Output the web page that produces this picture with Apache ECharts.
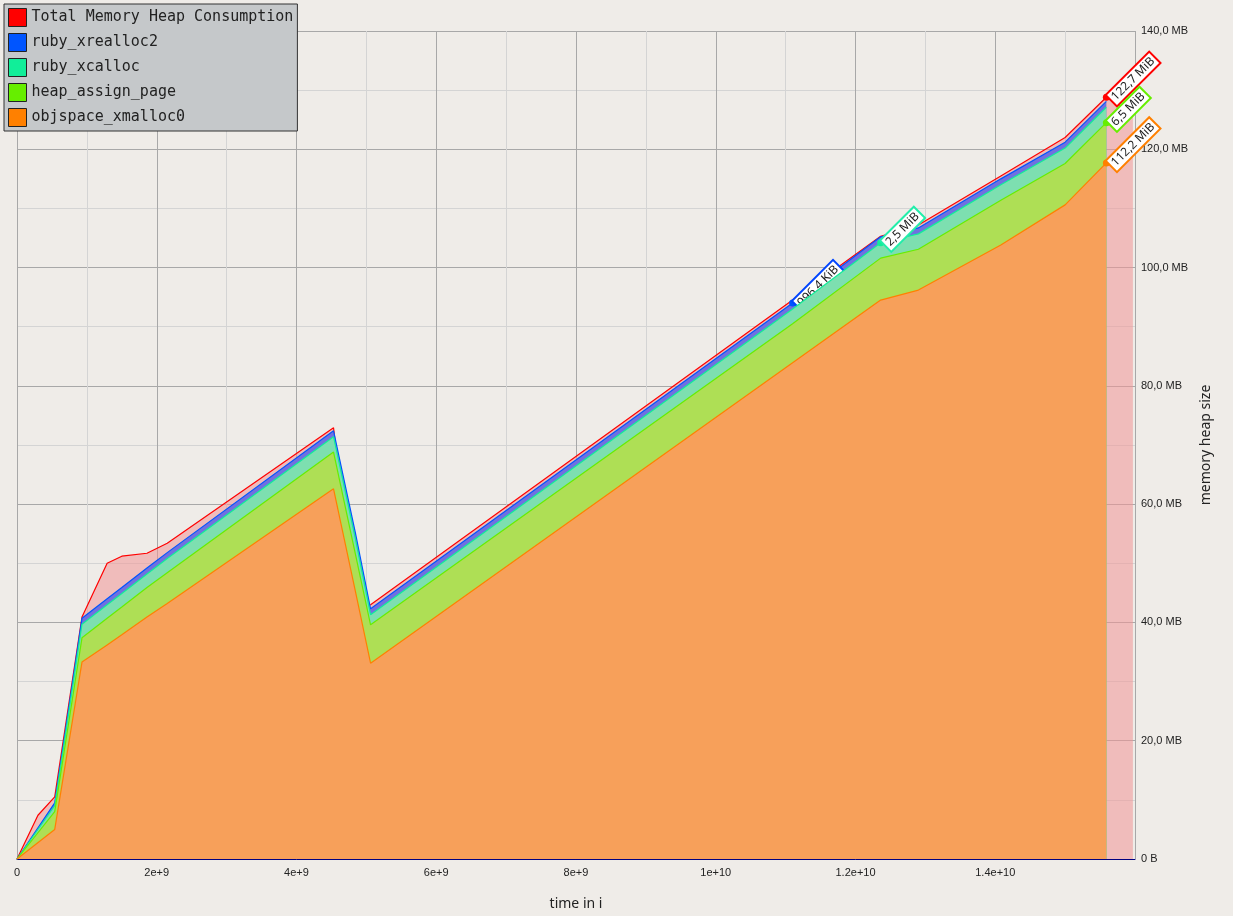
<!DOCTYPE html>
<html><head><meta charset="utf-8">
<script src="https://cdn.jsdelivr.net/npm/echarts@6/dist/echarts.min.js"></script>
<style>html,body{margin:0;background:#efece8}#c{width:1233px;height:916px}</style>
</head><body><div id="c"></div>
<script>
// snapshot times (1e9 units) and heap per allocator (MB)
var times = [0, 0.54, 0.93, 1.29, 1.5, 1.86, 2.15, 4.53, 4.84, 5.06, 11.1, 12.36, 12.9, 14.08, 15.0, 15.59];
var objspace = [0, 5, 33.3, 36.2, 37.9, 40.9, 43.2, 62.6, 45.4, 33.1, 83.9, 94.5, 96.2, 103.8, 110.6, 117.7];
var heapPage = [0, 3, 4.1, 4.5, 4.7, 5, 5.2, 6.2, 6.3, 6.5, 6.6, 7.1, 6.9, 7.6, 7, 6.8];
var xcalloc  = [0, 1, 2.3, 2.3, 2.3, 2.3, 2.4, 2.6, 2.6, 1.7, 2.5, 2.6, 2.6, 2.6, 2.6, 2.6];
var xrealloc = [0, 0.5, 1, 1, 1, 1, 1, 1, 1, 1, 1, 1, 1, 1, 1, 1];
var totalTimes = [0, 0.3, 0.54, 0.93, 1.29, 1.5, 1.86, 2.15, 4.53, 4.84, 5.06, 11.1, 12.36, 12.9, 14.08, 15.0, 15.59, 15.97];
var total = [0, 7.4, 10.5, 40.9, 50, 51.2, 51.7, 53.4, 72.9, 41.8, 43, 94.5, 105.3, 107.2, 115.5, 122, 128.8, 126];

function tag(text, color) {
  return { show: true, formatter: text, rotate: 45, position: 'right', offset: [-4, 0],
    backgroundColor: '#fff', borderColor: color, borderWidth: 2, padding: [1, 2],
    color: '#222', fontSize: 12, fontFamily: 'Noto Sans' };
}
function pts(xs, ys, labels) {
  return xs.map(function (t, i) {
    var p = { value: [t * 1e9, ys[i]] };
    if (labels && labels[i]) { p.label = labels[i]; p.symbol = 'circle'; p.symbolSize = 7; }
    return p;
  });
}
// cumulative stacks (drawn as overlapping filled areas)
var layers = [objspace, heapPage, xcalloc, xrealloc];
var cum = [], run = times.map(function () { return 0; });
layers.forEach(function (arr) {
  run = run.map(function (v, i) { return +(v + arr[i]).toFixed(2); });
  cum.push(run);
});
function layer(name, ys, line, fill, labels, z) {
  return { name: name, type: 'line', data: pts(times, ys, labels), clip: false,
    symbol: 'none', lineStyle: { color: line, width: 1.2 }, itemStyle: { color: line },
    areaStyle: { color: fill, opacity: 1 }, z: z };
}
var last = times.length - 1;
var lb = {}; lb[last] = tag('112,2 MiB', '#ff8000');
var lg = {}; lg[last] = tag('6,5 MiB', '#66ee00');
var lt = {}; lt[11] = tag('2,5 MiB', '#22eeaa');
var lr = {}; lr[10] = tag('996,4 KiB', '#0044ff');
var ltot = {}; ltot[16] = tag('122,7 MiB', '#ff0000');

var chart = echarts.init(document.getElementById('c'));
chart.setOption({
  backgroundColor: '#efece8',
  animation: false,
  grid: { left: 17, right: 98, top: 31, bottom: 57 },
  legend: {
    orient: 'vertical', left: 4, top: 4, itemWidth: 18, itemHeight: 18, itemGap: 6, icon: 'rect',
    backgroundColor: '#c5c8ca', borderColor: '#333', borderWidth: 1, padding: [4, 4, 4, 4],
    textStyle: { fontFamily: 'DejaVu Sans Mono', fontSize: 15, color: '#222' },
    data: [
      { name: 'Total Memory Heap Consumption', itemStyle: { color: '#ff0000', borderColor: '#222', borderWidth: 1 } },
      { name: 'ruby_xrealloc2', itemStyle: { color: '#0055ff', borderColor: '#222', borderWidth: 1 } },
      { name: 'ruby_xcalloc', itemStyle: { color: '#11ee99', borderColor: '#222', borderWidth: 1 } },
      { name: 'heap_assign_page', itemStyle: { color: '#66ee00', borderColor: '#222', borderWidth: 1 } },
      { name: 'objspace_xmalloc0', itemStyle: { color: '#ff8000', borderColor: '#222', borderWidth: 1 } }
    ]
  },
  xAxis: {
    type: 'value', min: 0, max: 1.6e10, interval: 2e9,
    name: 'time in i', nameLocation: 'middle', nameGap: 38,
    nameTextStyle: { fontSize: 14, color: '#222', fontFamily: 'Noto Sans' },
    axisLine: { lineStyle: { color: '#000080' } },
    axisTick: { show: false },
    axisLabel: { color: '#222', fontSize: 11, showMaxLabel: false, formatter: function (v) {
      if (v === 0) return '0'; var e = Math.floor(Math.log10(v)); return (v / Math.pow(10, e)) + 'e+' + e; } },
    splitLine: { show: true, lineStyle: { color: '#a8a8a8' } },
    minorTick: { show: true, splitNumber: 2, length: 0 },
    minorSplitLine: { show: true, lineStyle: { color: '#d4d4d4' } }
  },
  yAxis: {
    type: 'value', position: 'right', min: 0, max: 140, interval: 20,
    name: 'memory heap size', nameLocation: 'middle', nameGap: 62, nameRotate: 90,
    nameTextStyle: { fontSize: 14, color: '#222', fontFamily: 'Noto Sans' },
    axisLine: { show: false }, axisTick: { show: false },
    axisLabel: { color: '#222', fontSize: 11, margin: 6,
      formatter: function (v) { return v === 0 ? '0 B' : v.toFixed(1).replace('.', ',') + ' MB'; } },
    splitLine: { show: true, lineStyle: { color: '#a8a8a8' } },
    minorTick: { show: true, splitNumber: 2, length: 0 },
    minorSplitLine: { show: true, lineStyle: { color: '#d4d4d4' } }
  },
  series: [
    { name: 'Total Memory Heap Consumption', type: 'line', data: pts(totalTimes, total, ltot), clip: false,
      symbol: 'none', lineStyle: { color: '#ff0000', width: 1.2 }, itemStyle: { color: '#ff0000' },
      areaStyle: { color: 'rgba(240,150,150,0.55)', opacity: 1 }, z: 2 },
    layer('ruby_xrealloc2', cum[3], '#0055ff', '#7070e0', lr, 3),
    layer('ruby_xcalloc', cum[2], '#11ee99', '#7ddfb0', lt, 4),
    layer('heap_assign_page', cum[1], '#66ee00', '#aedf55', lg, 5),
    layer('objspace_xmalloc0', cum[0], '#ff8000', '#f7a05a', lb, 6)
  ]
});
</script></body></html>
